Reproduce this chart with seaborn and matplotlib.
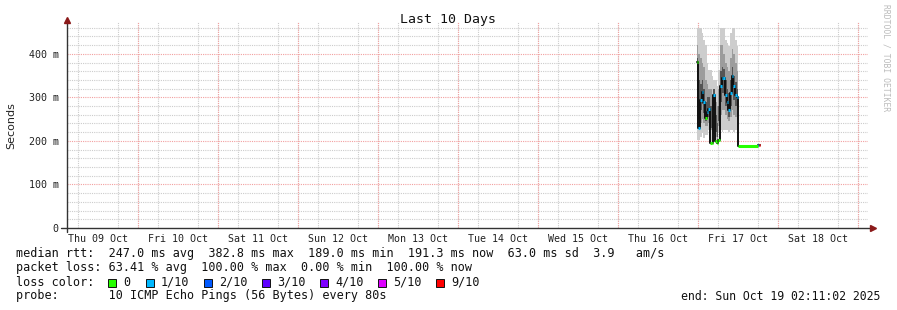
import numpy as np
import pandas as pd
import matplotlib
matplotlib.use("Agg")
import matplotlib.pyplot as plt
import seaborn as sns
from matplotlib.patches import Rectangle

# ---------------- data (hours after Fri 17 Oct 00:00, values in ms) ----------------
hours = [-0.4, 0.1, 0.6, 1.1, 1.6, 2.1, 2.6, 3.1, 3.6, 4.1, 4.6, 5.1, 5.6, 6.1,
         6.6, 7.1, 7.6, 8.1, 8.6, 9.1, 9.6, 10.1, 10.6, 11.1, 11.6, 12.1, 18.1, 18.4, 18.6]
median_ms = [382, 230, 294, 313, 290, 252, 267, 273, 195, 195, 306, 200, 195, 202,
             325, 344, 344, 306, 290, 271, 310, 348, 325, 306, 300, 189, 190, 190, 190]
loss = [0, 1, 1, 1, 1, 0, 1, 1, 0, 0, 1, 0, 0, 0,
        1, 1, 1, 1, 1, 1, 1, 1, 1, 1, 1, 0, 1, 9, 9]

smoke_hours = [-0.4, 0.1, 0.6, 1.1, 1.6, 2.1, 2.6, 3.1, 3.6, 4.1, 4.6, 5.1, 5.6, 6.1,
               6.6, 7.1, 7.6, 8.1, 8.6, 9.1, 9.6, 10.1, 10.6, 11.1, 11.6, 12.1]
ping_max = [459, 459, 459, 448, 432, 421, 379, 363, 363, 348, 340, 340, 325, 363,
            459, 459, 459, 432, 425, 417, 448, 459, 459, 432, 417, 417]
mid_hi = [420, 400, 390, 380, 370, 340, 330, 320, 320, 300, 300, 290, 280, 320,
          420, 420, 400, 380, 370, 360, 390, 410, 400, 380, 360, 360]
inner_hi = [390, 340, 330, 340, 320, 290, 300, 300, 280, 260, 320, 260, 240, 280,
            360, 370, 365, 340, 320, 310, 340, 370, 350, 335, 320, 320]
inner_lo = [280, 250, 270, 285, 265, 245, 250, 255, 230, 220, 270, 220, 210, 245,
            290, 310, 310, 280, 270, 255, 280, 310, 295, 280, 270, 270]
mid_lo = [240, 230, 240, 250, 240, 235, 235, 240, 225, 215, 215, 210, 205, 235,
          260, 270, 270, 260, 250, 245, 255, 270, 260, 255, 250, 250]
ping_min = [202, 202, 210, 218, 206, 214, 214, 225, 192, 192, 198, 196, 192, 218,
            225, 221, 225, 225, 225, 221, 225, 225, 221, 225, 233, 233]

day_labels = ["Thu 09 Oct", "Fri 10 Oct", "Sat 11 Oct", "Sun 12 Oct", "Mon 13 Oct",
              "Tue 14 Oct", "Wed 15 Oct", "Thu 16 Oct", "Fri 17 Oct", "Sat 18 Oct"]
y_ticks = [0, 100, 200, 300, 400]
y_labels = ["0", "100 m", "200 m", "300 m", "400 m"]

loss_names = ["0", "1/10", "2/10", "3/10", "4/10", "5/10", "9/10"]
loss_colors = ["#26ff00", "#00b8ff", "#0059ff", "#5e00ff", "#7e00ff", "#dd00ff", "#ff0000"]
loss_color_of = {0: "#26ff00", 1: "#00b8ff", 2: "#0059ff", 3: "#5e00ff",
                 4: "#7e00ff", 5: "#dd00ff", 9: "#ff0000"}

# ---------------- figure ----------------
sns.set_theme(style="white")
plt.rcParams["font.family"] = ["DejaVu Sans Mono", "DejaVu Sans"]

W, H = 897, 310
fig = plt.figure(figsize=(W / 100, H / 100), dpi=100)
fig.patch.set_facecolor("white")
ax = fig.add_axes([67 / W, 1 - 228 / H, (868 - 67) / W, (228 - 22) / H])
ax.set_facecolor("white")

OFF = 192.0  # hours from Thu 09 Oct 00:00 to Fri 17 Oct 00:00
XMIN, XMAX = 2.7, 243.0

# smoke
sx = [h + OFF for h in smoke_hours]
bands = [(ping_min, ping_max, "#cdcdcd"), (mid_lo, mid_hi, "#9c9c9c"),
         (inner_lo, inner_hi, "#555555")]
for lo, hi, col in bands:
    ax.fill_between(sx, lo, hi, step="post", color=col, lw=0, zorder=2)

# median line
df = pd.DataFrame({"t": [h + OFF for h in hours], "median": median_ms, "loss": loss})
sns.lineplot(data=df, x="t", y="median", estimator=None, drawstyle="steps-post",
             color="#111111", lw=1.4, ax=ax, zorder=3)
ax.hlines(df["median"].values[:-1], df["t"].values[:-1], df["t"].values[1:],
          colors=[loss_color_of[l] for l in loss[:-1]], lw=2.2, zorder=4)
ax.set_xlabel("")
ax.set_ylabel("")

# grids
ax.set_xticks(np.arange(6, 243, 6), minor=True)
ax.set_yticks(np.arange(0, 474, 20), minor=True)
ax.grid(which="minor", axis="both", color="#cccccc", linestyle=(0, (1, 1)), lw=0.8)
for d in range(1, 11):
    ax.axvline(24 * d, color="#f2a0a0", linestyle=(0, (1, 1)), lw=0.8, zorder=1)
for v in y_ticks[1:]:
    ax.axhline(v, color="#f2a0a0", linestyle=(0, (1, 1)), lw=0.8, zorder=1)

ax.set_xticks([12 + 24 * i for i in range(len(day_labels))])
ax.set_xticklabels(day_labels)
ax.set_yticks(y_ticks)
ax.set_yticklabels(y_labels)
ax.tick_params(axis="x", which="both", length=0, labelsize=7.2, pad=4, colors="#222222")
ax.tick_params(axis="y", which="major", length=3, width=0.8, labelsize=7.2, pad=3,
               colors="#222222", direction="out")
ax.tick_params(axis="y", which="minor", length=0)
for s in ax.spines.values():
    s.set_visible(False)

ax.set_xlim(XMIN, XMAX)
ax.set_ylim(0, 473)

# axes lines with arrows
ax.plot([-0.008, 1.004], [0, 0], transform=ax.transAxes, color="#333333", lw=1.0,
        clip_on=False, zorder=5)
ax.plot([0, 0], [-0.02, 1.0], transform=ax.transAxes, color="#333333", lw=1.0,
        clip_on=False, zorder=5)
ax.plot([1.006], [0], transform=ax.transAxes, marker=">", color="#8b1a1a", ms=4,
        clip_on=False, zorder=6)
ax.plot([0], [1.01], transform=ax.transAxes, marker="^", color="#8b1a1a", ms=4,
        clip_on=False, zorder=6)
ax.set_xlim(XMIN, XMAX)
ax.set_ylim(0, 473)

# texts
fig.text(448 / W, 1 - 19 / H, "Last 10 Days", ha="center", va="center", fontsize=9.5,
         color="#111111")
fig.text(11 / W, 1 - 126 / H, "Seconds", rotation=90, ha="center", va="center",
         fontsize=8, family="DejaVu Sans", color="#222222")
fig.text(886 / W, 1 - 58 / H, "RRDTOOL / TOBI OETIKER", rotation=270, ha="center",
         va="center", fontsize=5.8, color="#bbbbbb")

fs = 8.5
lines = [
    "median rtt:  247.0 ms avg  382.8 ms max  189.0 ms min  191.3 ms now  63.0 ms sd  3.9   am/s",
    "packet loss: 63.41 % avg  100.00 % max  0.00 % min  100.00 % now",
]
ys = [254, 268, 282, 296]
for txt, yy in zip(lines, ys[:2]):
    fig.text(16 / W, 1 - yy / H, txt, ha="left", va="center", fontsize=fs, color="#111111")
fig.text(16 / W, 1 - ys[2] / H, "loss color:", ha="left", va="center", fontsize=fs,
         color="#111111")
sq_x = [108, 146, 204, 262, 320, 378, 436]
for xs, name, col in zip(sq_x, loss_names, loss_colors):
    fig.patches.append(Rectangle((xs / W, 1 - 287 / H), 8 / W, 8 / H, transform=fig.transFigure,
                                 facecolor=col, edgecolor="#111111", lw=0.7, figure=fig))
    fig.text((xs + 15) / W, 1 - ys[2] / H, name, ha="left", va="center", fontsize=fs,
             color="#111111")
fig.text(16 / W, 1 - ys[3] / H, "probe:       10 ICMP Echo Pings (56 Bytes) every 80s",
         ha="left", va="center", fontsize=fs, color="#111111")
fig.text(880 / W, 1 - ys[3] / H, "end: Sun Oct 19 02:11:02 2025", ha="right", va="center",
         fontsize=8.3, color="#111111")

fig.savefig("out.png", dpi=100, facecolor="white")
